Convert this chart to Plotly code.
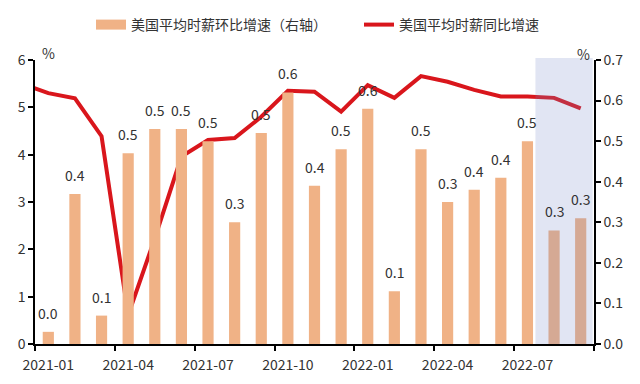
import plotly.graph_objects as go

months = ["2021-01","2021-02","2021-03","2021-04","2021-05","2021-06","2021-07","2021-08",
          "2021-09","2021-10","2021-11","2021-12","2022-01","2022-02","2022-03","2022-04",
          "2022-05","2022-06","2022-07","2022-08","2022-09"]
# MoM growth (right axis, %)
mom = [0.03, 0.37, 0.07, 0.47, 0.53, 0.53, 0.50, 0.30, 0.52, 0.62, 0.39, 0.48,
       0.58, 0.13, 0.48, 0.35, 0.38, 0.41, 0.50, 0.28, 0.31]
# YoY growth (left axis, %), includes 2020-12 so the line enters from the left edge
yoy_months = ["2020-12"] + months
yoy = [5.5, 5.30, 5.19, 4.39, 0.61, 2.23, 3.96, 4.31, 4.35, 4.80, 5.35, 5.33, 4.91,
       5.47, 5.20, 5.66, 5.54, 5.37, 5.23, 5.23, 5.20, 4.98]
tick_labels = ["2021-01","2021-04","2021-07","2021-10","2022-01","2022-04","2022-07"]
shade_months = ["2022-08", "2022-09"]
bar_name = "美国平均时薪环比增速（右轴）"
line_name = "美国平均时薪同比增速"

idx = {m: i for i, m in enumerate(yoy_months)}
x_bar = [idx[m] - 1 for m in months]
x_line = [idx[m] - 1 for m in yoy_months]
label_pos = [months.index(t) for t in tick_labels]
boundary_pos = [p - 0.5 for p in label_pos] + [len(months) - 0.5]

FONT = "Noto Sans CJK SC"
TXT = "#333333"
BAR = "#f0b286"
LINE = "#d9161c"

# page body adds an 8px offset; plot area target (page px): x 35..594, y 60..344
OFF = 8
PL, PR, PT, PB = 35 - OFF, 594 - OFF, 60 - OFF, 344 - OFF
PW, PH = PR - PL, PB - PT

def px_x(x):  # page px -> paper x
    return (x - OFF - PL) / PW

def px_y(y):  # page px -> paper y
    return (PB - (y - OFF)) / PH

fig = go.Figure()
fig.add_trace(go.Bar(
    x=x_bar, y=mom, yaxis="y2", name=bar_name, showlegend=False,
    marker=dict(color=BAR, line=dict(width=0)), width=0.42,
))
for xb, v in zip(x_bar, mom):
    fig.add_annotation(x=xb, y=v, xref="x", yref="y2", text=f"{v:.1f}", showarrow=False,
                       yanchor="bottom", yshift=7, font=dict(size=14, color=TXT, family=FONT))
fig.add_trace(go.Scatter(
    x=x_line, y=yoy, mode="lines", name=line_name, showlegend=False,
    line=dict(color=LINE, width=4), yaxis="y",
))
# legend-only entries
fig.add_trace(go.Scatter(x=[None], y=[None], mode="lines", name=bar_name,
                         line=dict(color=BAR, width=10)))
fig.add_trace(go.Scatter(x=[None], y=[None], mode="lines", name=line_name,
                         line=dict(color=LINE, width=4)))

s0 = months.index(shade_months[0]) - 0.7
s1 = months.index(shade_months[-1]) + 0.45
fig.add_shape(type="rect", xref="x", yref="paper", x0=s0, x1=s1, y0=0, y1=1.007,
              fillcolor="rgba(120,135,200,0.22)", line=dict(width=0), layer="above")

fig.update_layout(
    width=640, height=384,
    margin=dict(l=PL, r=640 - PR, t=PT, b=384 - PB, autoexpand=False),
    plot_bgcolor="white", paper_bgcolor="white",
    font=dict(family=FONT, size=14, color=TXT),
    showlegend=True,
    legend=dict(orientation="h", x=px_x(91), xanchor="left", y=px_y(25), yanchor="middle",
                font=dict(size=14, family=FONT, color=TXT),
                itemwidth=30, traceorder="normal", entrywidth=223,
                bgcolor="rgba(0,0,0,0)"),
    xaxis=dict(range=[-0.5, len(months) - 0.5], tickmode="array", tickvals=label_pos,
               ticktext=tick_labels, ticks="", showline=True, linecolor="black", linewidth=1.5,
               showgrid=False, zeroline=False, tickfont=dict(size=14), ticklabelstandoff=7,
               minor=dict(tickmode="array", tickvals=boundary_pos, ticks="outside",
                          ticklen=5, tickcolor="black", tickwidth=1.5, showgrid=False)),
    yaxis=dict(range=[0, 6], dtick=1, showline=True, linecolor="black", linewidth=1.5,
               ticks="outside", ticklen=5, tickcolor="black", tickwidth=1.5, showgrid=False,
               zeroline=False, tickfont=dict(size=14)),
    yaxis2=dict(range=[0, 0.7], dtick=0.1, tickformat=".1f", overlaying="y", side="right",
                showline=True, linecolor="black", linewidth=1.5, ticks="outside", ticklen=5,
                tickcolor="black", tickwidth=1.5, showgrid=False, zeroline=False,
                tickfont=dict(size=14)),
)
fig.add_annotation(text="%", xref="paper", yref="paper", x=px_x(48), y=px_y(53),
                   xanchor="center", yanchor="middle", showarrow=False,
                   font=dict(size=14, color=TXT))
fig.add_annotation(text="%", xref="paper", yref="paper", x=px_x(583), y=px_y(54),
                   xanchor="center", yanchor="middle", showarrow=False,
                   font=dict(size=14, color=TXT))

fig.write_html("out.html")
